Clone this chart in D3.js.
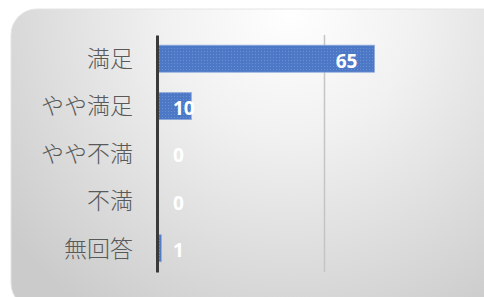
<!DOCTYPE html>
<html>
<head>
<meta charset="utf-8">
<script src="https://cdn.jsdelivr.net/npm/d3@7"></script>
<style>
  html, body { margin: 0; padding: 0; background: #fff; }
  svg { display: block; }
</style>
</head>
<body>
<div id="chart"></div>
<script>
// data
const categories = ['満足', 'やや満足', 'やや不満', '不満', '無回答'];
const values = [65, 10, 0, 0, 1];
const gridTicks = [50, 100];

const width = 484;
const height = 297;

const svg = d3.select('#chart')
    .append('svg')
    .attr('width', width)
    .attr('height', height);

const defs = svg.append('defs');

// panel background gradient
const grad = defs.append('radialGradient')
    .attr('id', 'bg')
    .attr('gradientUnits', 'userSpaceOnUse')
    .attr('cx', 290).attr('cy', 10).attr('r', 360);
grad.append('stop').attr('offset', '0%').attr('stop-color', '#ffffff');
grad.append('stop').attr('offset', '35%').attr('stop-color', '#f1f1f1');
grad.append('stop').attr('offset', '100%').attr('stop-color', '#cbcbcb');

// light dotted texture on bars
const pat = defs.append('pattern')
    .attr('id', 'barfill')
    .attr('patternUnits', 'userSpaceOnUse')
    .attr('width', 3).attr('height', 3);
pat.append('rect').attr('width', 3).attr('height', 3).attr('fill', '#4c78c6');
pat.append('rect').attr('width', 1).attr('height', 1).attr('fill', '#6a8fd2');

svg.append('rect')
    .attr('x', 11).attr('y', 9)
    .attr('width', 500).attr('height', 300)
    .attr('rx', 26).attr('ry', 26)
    .attr('fill', 'url(#bg)')
    .attr('stroke', '#e4e4e4');

// scales
const x = d3.scaleLinear().domain([0, 100]).range([158, 491]);
const y = d3.scaleBand()
    .domain(categories)
    .range([35, 272])
    .paddingInner(0.43)
    .paddingOuter(0.215);

// gridlines
svg.append('g')
    .selectAll('line')
    .data(gridTicks)
    .enter().append('line')
    .attr('x1', d => x(d)).attr('x2', d => x(d))
    .attr('y1', 35).attr('y2', 272)
    .attr('stroke', '#c4c4c4')
    .attr('stroke-width', 1.5);

// bars
svg.append('g')
    .selectAll('rect')
    .data(values)
    .enter().append('rect')
    .attr('x', x(0))
    .attr('y', (d, i) => y(categories[i]))
    .attr('width', d => x(d) - x(0))
    .attr('height', y.bandwidth())
    .attr('fill', 'url(#barfill)')
    .attr('stroke', d => d > 0 ? '#8faadc' : 'none')
    .attr('stroke-width', 0.8);

// category axis
const axis = svg.append('g')
    .attr('transform', `translate(${x(0) - 1},0)`)
    .call(d3.axisLeft(y).tickSize(0).tickPadding(24));
axis.select('.domain')
    .attr('stroke', '#3a3a3a')
    .attr('stroke-width', 3);
axis.selectAll('text')
    .attr('font-family', '"Noto Sans CJK JP", sans-serif')
    .attr('font-weight', 300)
    .attr('font-size', 23)
    .attr('fill', '#595959')
    .attr('dy', '0.36em');

// value labels
svg.append('g')
    .selectAll('text')
    .data(values)
    .enter().append('text')
    .text(d => d)
    .attr('font-family', '"Open Sans", sans-serif')
    .attr('font-weight', 'bold')
    .attr('font-size', 19)
    .attr('fill', '#ffffff')
    .attr('y', (d, i) => y(categories[i]) + y.bandwidth() / 2 + 2)
    .attr('dy', '0.36em')
    .each(function(d) {
        const w = this.getComputedTextLength();
        const start = Math.max(x(d) - 17 - w, x(0) + 15);
        d3.select(this).attr('x', start);
    });
</script>
</body>
</html>
